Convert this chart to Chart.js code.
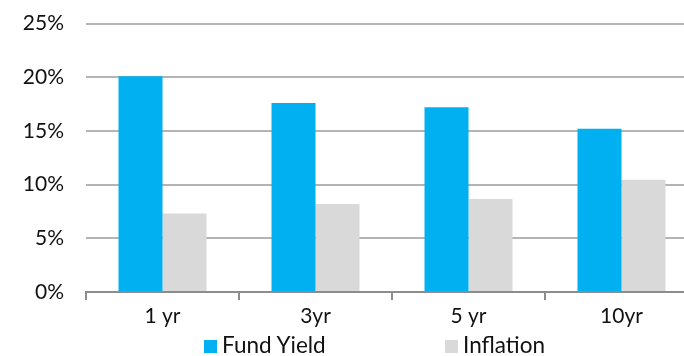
<!DOCTYPE html>
<html>
<head>
<meta charset="utf-8">
<script src="https://cdn.jsdelivr.net/npm/chart.js@4.4.1/dist/chart.umd.min.js"></script>
<style>
  html, body { margin: 0; padding: 0; background: #fff; overflow: hidden; }
  #wrap { position: relative; width: 700px; height: 356px; }
  .legend-item { position: absolute; top: 331px; font-family: Lato, sans-serif; font-size: 22.5px; color: #111; white-space: nowrap; }
  .legend-item span.box { display: inline-block; width: 13px; height: 13px; margin-right: 5px; }
</style>
</head>
<body>
<div id="wrap">
  <canvas id="yieldChart"></canvas>
  <div id="legendArea"></div>
</div>
<script>
const periods = ["1 yr", "3yr", "5 yr", "10yr"];
const fundYield = [20.1, 17.6, 17.2, 15.2];
const inflation = [7.3, 8.2, 8.65, 10.45];
const yTicks = [0, 5, 10, 15, 20, 25];

const seriesNames = ["Fund Yield", "Inflation"];
const seriesColors = ["#00B0F0", "#D9D9D9"];
const legendLeft = [204, 445];

// legend drawn as html so the item spacing can match the original
seriesNames.forEach((name, i) => {
  const div = document.createElement("div");
  div.className = "legend-item";
  div.style.left = legendLeft[i] + "px";
  div.innerHTML = `<span class="box" style="background:${seriesColors[i]}"></span>${name}`;
  document.getElementById("legendArea").appendChild(div);
});

new Chart(document.getElementById("yieldChart"), {
  type: "bar",
  data: {
    labels: periods,
    datasets: [
      { label: seriesNames[0], data: fundYield, backgroundColor: seriesColors[0] },
      { label: seriesNames[1], data: inflation, backgroundColor: seriesColors[1] }
    ]
  },
  options: {
    responsive: true,
    maintainAspectRatio: false,
    animation: false,
    layout: { padding: { top: 23.5, right: 2, bottom: 24, left: 0 } },
    plugins: { legend: { display: false }, tooltip: { enabled: false } },
    datasets: { bar: { categoryPercentage: 0.575, barPercentage: 1.0 } },
    scales: {
      x: {
        grid: { drawOnChartArea: false, drawTicks: true, tickLength: 8, color: "#8c8c8c", lineWidth: 2 },
        border: { color: "#8c8c8c", width: 2 },
        ticks: { color: "#111", font: { family: "Lato", size: 21 }, padding: 4 },
        afterFit: s => { s.height = 40; }
      },
      y: {
        min: 0,
        max: 25,
        afterBuildTicks: s => { s.ticks = yTicks.map(v => ({ value: v })); },
        // invisible tick marks push the labels left without adding top padding
        grid: { color: "#b4b4b4", lineWidth: 2, drawTicks: true, tickLength: 20, tickColor: "rgba(0,0,0,0)" },
        border: { display: false },
        ticks: { color: "#111", font: { family: "Lato", size: 21 }, padding: 2, callback: v => v + "%" },
        afterFit: s => { s.width = 86; }
      }
    }
  }
});
</script>
</body>
</html>
